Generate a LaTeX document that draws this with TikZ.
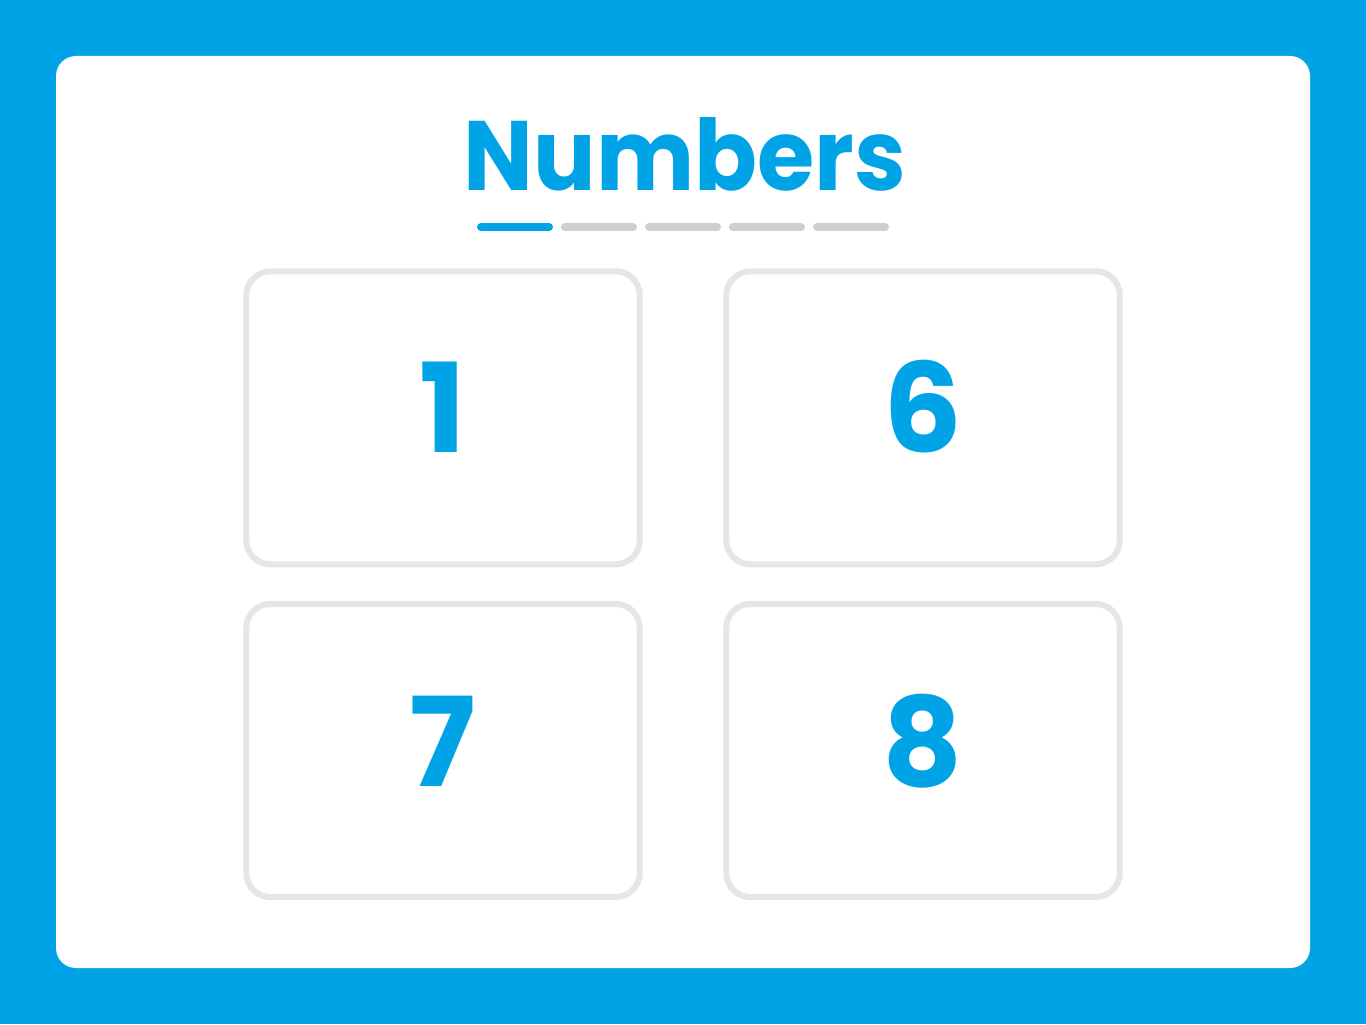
\documentclass[tikz,border=0pt]{standalone}
\usepackage{fontspec}
\usepackage{tikz}
\setmainfont{Poppins}
\definecolor{skyblue}{HTML}{00A4E6}
\definecolor{cardgray}{HTML}{E6E6E6}
\definecolor{bargray}{HTML}{CFCFCF}
\tikzset{card/.style={draw=cardgray, line width=4.5pt, rounded corners=18pt}, bar/.style={line width=6pt, line cap=round, draw=bargray}, digit/.style={anchor=base, text=skyblue, inner sep=0pt, font=\fontsize{93}{100}\selectfont\bfseries}}

\begin{document}
\begin{tikzpicture}[x=0.75pt, y=-0.75pt]
\useasboundingbox (0, 0) rectangle (1366, 1024);
 \fill[skyblue] (0, 0) rectangle (1366, 1024);
 \fill[white, rounded corners=15pt] (56, 56) rectangle (1310, 968);
 % title and progress
 \node[anchor=base, text=skyblue, inner sep=0pt, font=\fontsize{74}{80}\selectfont\bfseries] (title) at (685, 190) {\scalebox{0.94}[1]{Numbers}};
 \draw[bar, draw=skyblue] (481, 227) -- (549, 227);
 \foreach \i in {1,...,4}
  \draw[bar] (481+84*\i, 227) -- (549+84*\i, 227);
 % cards
 \draw[card] (246.3, 271.3) rectangle (639.7, 564.3);
 \draw[card] (726.3, 271.3) rectangle (1119.7, 564.3);
 \draw[card] (246.3, 604) rectangle (639.7, 897);
 \draw[card] (726.3, 604) rectangle (1119.7, 897);
 \node[digit] (one) at (443, 452) {1};
 \node[digit] (six) at (923, 452) {6};
 \node[digit] (seven) at (443, 786) {7};
 \node[digit] (eight) at (923, 786) {8};
\end{tikzpicture}
\end{document}
